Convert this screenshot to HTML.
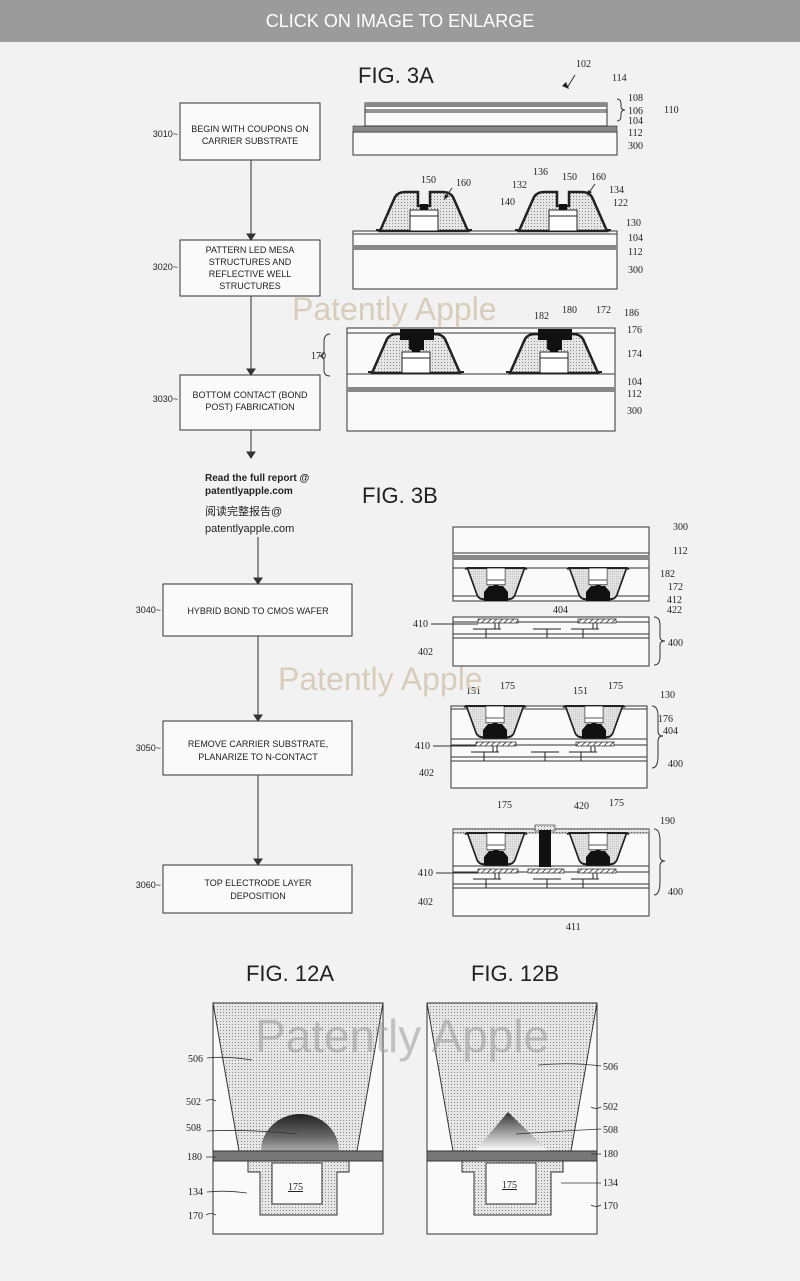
<!DOCTYPE html>
<html><head><meta charset="utf-8"><style>
html,body{margin:0;padding:0;background:#f2f2f2;}
svg{display:block}
.l{font-family:"Liberation Serif",serif;font-size:10px;fill:#222}
.b{font-family:"Liberation Sans",sans-serif;font-size:9px;fill:#222;text-anchor:middle}
.n{font-family:"Liberation Sans",sans-serif;font-size:9px;fill:#222;text-anchor:end}
.f{font-family:"Liberation Sans",sans-serif;font-size:22px;fill:#222}
</style></head><body>
<svg width="800" height="1281" viewBox="0 0 800 1281" xmlns="http://www.w3.org/2000/svg">
<defs>
<pattern id="dots" width="3" height="3" patternUnits="userSpaceOnUse"><rect width="3" height="3" fill="#e6e6e6"/><rect x="1" y="1" width="1" height="1" fill="#888"/></pattern>
<pattern id="hatch" width="4" height="4" patternUnits="userSpaceOnUse" patternTransform="rotate(45)"><rect width="4" height="4" fill="#fff"/><line x1="0" y1="0" x2="0" y2="4" stroke="#222" stroke-width="1.5"/></pattern>
<linearGradient id="dome" x1="0" y1="0" x2="0" y2="1"><stop offset="0" stop-color="#222"/><stop offset="0.6" stop-color="#666"/><stop offset="1" stop-color="#aaa"/></linearGradient>
<linearGradient id="tri" x1="0" y1="0" x2="0" y2="1"><stop offset="0" stop-color="#333"/><stop offset="1" stop-color="#fff"/></linearGradient>
<g id="mesa">
<line x1="-48" y1="-1" x2="48" y2="-1" stroke="#222" stroke-width="2"/>
<path d="M-44,0 L-29,-34 Q-26,-39 -19,-39 L-6,-39 L-6,-25 L6,-25 L6,-39 L19,-39 Q26,-39 29,-34 L44,0 Z" fill="url(#dots)" stroke="#222" stroke-width="2.5"/>
<rect x="-14" y="-21" width="28" height="21" fill="#fff" stroke="#222" stroke-width="1"/>
<line x1="-14" y1="-15" x2="14" y2="-15" stroke="#222"/>
<rect x="-4" y="-27" width="8" height="6" fill="#111"/>
</g>
<g id="wafer">
<line x1="0" y1="5" x2="196" y2="5" stroke="#333"/>
<line x1="0" y1="17" x2="196" y2="17" stroke="#333"/>
<line x1="0" y1="21" x2="196" y2="21" stroke="#333"/>
<rect x="25" y="2" width="40" height="4" fill="url(#hatch)" stroke="#222" stroke-width="0.7"/>
<rect x="125" y="2" width="38" height="4" fill="url(#hatch)" stroke="#222" stroke-width="0.7"/>
<path d="M42,6 v6 h4 v-6" fill="none" stroke="#222"/>
<path d="M140,6 v6 h4 v-6" fill="none" stroke="#222"/>
<path d="M20,12 h28 M33,12 v9 M80,12 h28 M94,12 v9 M118,12 h28 M130,12 v9" stroke="#222" fill="none"/>
</g>
</defs>

<rect x="0" y="0" width="800" height="42" fill="#9b9b9b"/>
<text x="400" y="27" text-anchor="middle" font-family="Liberation Sans,sans-serif" font-size="18" fill="#fff">CLICK ON IMAGE TO ENLARGE</text>

<g fill="#fafafa" stroke="#333" stroke-width="1">
<rect x="180" y="103" width="140" height="57"/>
<rect x="180" y="240" width="140" height="56"/>
<rect x="180" y="375" width="140" height="55"/>
<rect x="163" y="584" width="189" height="52"/>
<rect x="163" y="721" width="189" height="54"/>
<rect x="163" y="865" width="189" height="48"/>
</g>
<text class="b" x="250" y="132">BEGIN WITH COUPONS ON</text><text class="b" x="250" y="144">CARRIER SUBSTRATE</text>
<text class="b" x="250" y="253">PATTERN LED MESA</text><text class="b" x="250" y="265">STRUCTURES AND</text><text class="b" x="250" y="277">REFLECTIVE WELL</text><text class="b" x="250" y="289">STRUCTURES</text>
<text class="b" x="250" y="398">BOTTOM CONTACT (BOND</text><text class="b" x="250" y="410">POST) FABRICATION</text>
<text class="b" x="258" y="614">HYBRID BOND TO CMOS WAFER</text>
<text class="b" x="258" y="747">REMOVE CARRIER SUBSTRATE,</text><text class="b" x="258" y="760">PLANARIZE TO N-CONTACT</text>
<text class="b" x="258" y="886">TOP ELECTRODE LAYER</text><text class="b" x="258" y="899">DEPOSITION</text>
<text class="n" x="178" y="137">3010~</text><text class="n" x="178" y="270">3020~</text><text class="n" x="178" y="402">3030~</text>
<text class="n" x="161" y="613">3040~</text><text class="n" x="161" y="751">3050~</text><text class="n" x="161" y="888">3060~</text>
<g stroke="#333" fill="#333">
<line x1="251" y1="160" x2="251" y2="234"/><path d="M247,234 L255,234 L251,240Z"/>
<line x1="251" y1="296" x2="251" y2="369"/><path d="M247,369 L255,369 L251,375Z"/>
<line x1="251" y1="430" x2="251" y2="452"/><path d="M247,452 L255,452 L251,458Z"/>
<line x1="258" y1="537" x2="258" y2="578"/><path d="M254,578 L262,578 L258,584Z"/>
<line x1="258" y1="636" x2="258" y2="715"/><path d="M254,715 L262,715 L258,721Z"/>
<line x1="258" y1="775" x2="258" y2="859"/><path d="M254,859 L262,859 L258,865Z"/>
</g>
<text x="205" y="481" font-family="Liberation Sans,sans-serif" font-size="10" font-weight="bold" fill="#222">Read the full report @</text>
<text x="205" y="494" font-family="Liberation Sans,sans-serif" font-size="10" font-weight="bold" fill="#222">patentlyapple.com</text>
<text x="205" y="515" font-family="Liberation Sans,'Noto Sans CJK SC',sans-serif" font-size="11" fill="#222">阅读完整报告@</text>
<text x="205" y="532" font-family="Liberation Sans,sans-serif" font-size="11" fill="#222">patentlyapple.com</text>

<text class="f" x="358" y="83">FIG. 3A</text>
<text class="f" x="362" y="503">FIG. 3B</text>

<rect x="353" y="132" width="264" height="23" fill="#fafafa" stroke="#333"/>
<rect x="353" y="126" width="264" height="6" fill="#888" stroke="#333" stroke-width="0.6"/>
<rect x="365" y="103" width="242" height="23" fill="#fafafa" stroke="#333"/>
<rect x="365" y="103" width="242" height="4" fill="#888"/>
<line x1="365" y1="110" x2="607" y2="110" stroke="#333"/><line x1="365" y1="112" x2="607" y2="112" stroke="#333"/>
<rect x="353" y="231" width="264" height="58" fill="#fafafa" stroke="#333"/>
<line x1="353" y1="234" x2="617" y2="234" stroke="#333"/>
<rect x="353" y="245" width="264" height="5" fill="#888"/>
<use href="#mesa" x="424" y="231"/><use href="#mesa" x="563" y="231"/>
<rect x="347" y="328" width="268" height="103" fill="#fafafa" stroke="#333"/>
<line x1="347" y1="333" x2="615" y2="333" stroke="#333"/>
<line x1="347" y1="374" x2="615" y2="374" stroke="#333"/>
<rect x="347" y="387" width="268" height="5" fill="#888"/>
<use href="#mesa" x="416" y="373"/><use href="#mesa" x="554" y="373"/>
<path d="M400,329 h34 v11 h-10 v10 h-14 v-10 h-10z" fill="#111"/>
<path d="M538,329 h34 v11 h-10 v10 h-14 v-10 h-10z" fill="#111"/>
<path d="M330,334 q-6,0 -6,8 v10 q0,4 -5,4 q5,0 5,4 v10 q0,6 6,6" fill="none" stroke="#333"/>

<g class="l">
<text x="576" y="67">102</text><text x="612" y="81">114</text>
<text x="628" y="101">108</text><text x="628" y="114">106</text><text x="628" y="124">104</text><text x="664" y="113">110</text>
<text x="628" y="136">112</text><text x="628" y="149">300</text>
<text x="421" y="183">150</text><text x="456" y="186">160</text><text x="533" y="175">136</text><text x="562" y="180">150</text><text x="591" y="180">160</text>
<text x="512" y="188">132</text><text x="609" y="193">134</text><text x="500" y="205">140</text><text x="613" y="206">122</text>
<text x="626" y="226">130</text><text x="628" y="241">104</text><text x="628" y="255">112</text><text x="628" y="273">300</text>
<text x="534" y="319">182</text><text x="562" y="313">180</text><text x="596" y="313">172</text><text x="624" y="316">186</text>
<text x="627" y="333">176</text><text x="627" y="357">174</text><text x="627" y="385">104</text><text x="627" y="397">112</text><text x="627" y="414">300</text>
<text x="311" y="359">170</text>
</g>
<path d="M575,75 L567,88" stroke="#333"/><path d="M562,86 L569,89 L566,82Z" fill="#222"/>
<path d="M452,188 L445,198" stroke="#333"/><path d="M445,194 L444,200 L449,196Z" fill="#222"/>
<path d="M595,184 L588,194" stroke="#333"/><path d="M588,190 L587,196 L592,192Z" fill="#222"/>
<path d="M617,99 q4,0 4,5 v2 q0,4 4,4 q-4,0 -4,4 v2 q0,5 -4,5" fill="none" stroke="#333"/>

<rect x="453" y="527" width="196" height="74" fill="#fafafa" stroke="#333"/>
<line x1="453" y1="553" x2="649" y2="553" stroke="#333"/>
<rect x="453" y="555" width="196" height="5" fill="#888"/>
<line x1="453" y1="568" x2="649" y2="568" stroke="#333"/><line x1="453" y1="596" x2="649" y2="596" stroke="#333"/>
<g transform="translate(496,568) scale(0.65,-0.8)"><use href="#mesa"/></g>
<g transform="translate(598,568) scale(0.65,-0.8)"><use href="#mesa"/></g>
<path d="M484,601 v-9 l5,-6 h14 l5,6 v9z" fill="#111"/><path d="M586,601 v-9 l5,-6 h14 l5,6 v9z" fill="#111"/>
<rect x="453" y="617" width="196" height="49" fill="#fafafa" stroke="#333"/>
<use href="#wafer" x="453" y="617"/>
<rect x="451" y="706" width="196" height="82" fill="#fafafa" stroke="#333"/>
<line x1="451" y1="709" x2="647" y2="709" stroke="#333"/>
<g transform="translate(495,706) scale(0.65,-0.8)"><use href="#mesa"/></g>
<g transform="translate(594,706) scale(0.65,-0.8)"><use href="#mesa"/></g>
<path d="M483,739 v-9 l5,-6 h14 l5,6 v9z" fill="#111"/><path d="M582,739 v-9 l5,-6 h14 l5,6 v9z" fill="#111"/>
<line x1="451" y1="739" x2="647" y2="739" stroke="#333"/>
<use href="#wafer" x="451" y="740"/>
<rect x="453" y="829" width="196" height="87" fill="#fafafa" stroke="#333"/>
<rect x="453" y="829" width="196" height="4" fill="url(#dots)" stroke="#333" stroke-width="0.6"/>
<rect x="535" y="825" width="20" height="6" fill="url(#dots)" stroke="#333" stroke-width="0.6"/>
<g transform="translate(496,833) scale(0.65,-0.8)"><use href="#mesa"/></g>
<g transform="translate(598,833) scale(0.65,-0.8)"><use href="#mesa"/></g>
<path d="M484,866 v-9 l5,-6 h14 l5,6 v9z" fill="#111"/><path d="M586,866 v-9 l5,-6 h14 l5,6 v9z" fill="#111"/>
<line x1="453" y1="866" x2="649" y2="866" stroke="#333"/>
<use href="#wafer" x="453" y="867"/>
<rect x="528" y="869" width="36" height="4" fill="url(#hatch)" stroke="#222" stroke-width="0.7"/>
<rect x="539" y="830" width="12" height="37" fill="#111"/>

<g class="l">
<text x="673" y="530">300</text><text x="673" y="554">112</text><text x="660" y="577">182</text><text x="668" y="590">172</text>
<text x="667" y="603">412</text><text x="667" y="613">422</text><text x="553" y="613">404</text>
<text x="413" y="627">410</text><text x="418" y="655">402</text><text x="668" y="646">400</text>
<text x="466" y="694">151</text><text x="500" y="689">175</text><text x="573" y="694">151</text><text x="608" y="689">175</text>
<text x="660" y="698">130</text><text x="658" y="722">176</text><text x="663" y="734">404</text>
<text x="415" y="749">410</text><text x="419" y="776">402</text><text x="668" y="767">400</text>
<text x="497" y="808">175</text><text x="574" y="809">420</text><text x="609" y="806">175</text><text x="660" y="824">190</text>
<text x="418" y="876">410</text><text x="418" y="905">402</text><text x="668" y="895">400</text><text x="566" y="930">411</text>
</g>
<g fill="none" stroke="#333">
<path d="M654,617 q6,0 6,8 v12 q0,4 5,4 q-5,0 -5,4 v12 q0,8 -6,8"/>
<path d="M652,706 q6,0 6,10 v15 q0,5 5,5 q-5,0 -5,5 v15 q0,12 -6,12"/>
<path d="M654,829 q6,0 6,12 v15 q0,5 5,5 q-5,0 -5,5 v15 q0,14 -6,14"/>
<path d="M431,624 H478 M433,746 H476 M436,873 H478"/>
</g>

<text x="292" y="320" font-family="Liberation Sans,sans-serif" font-size="32" fill="#d8cdbb">Patently Apple</text>
<text x="278" y="690" font-family="Liberation Sans,sans-serif" font-size="32" fill="#d8cdbb">Patently Apple</text>

<text class="f" x="290" y="981" text-anchor="middle">FIG. 12A</text>
<text class="f" x="515" y="981" text-anchor="middle">FIG. 12B</text>
<g>
<rect x="213" y="1003" width="170" height="231" fill="#fafafa" stroke="#333"/>
<path d="M213,1003 H383 L357,1151 H239 Z" fill="url(#dots)" stroke="#333"/>
<path d="M261,1151 A39,37 0 0 1 339,1151 Z" fill="url(#dome)"/>
<path d="M248,1161 H349 V1172 H337 V1215 H260 V1172 H248 Z" fill="url(#dots)" stroke="#333"/>
<rect x="272" y="1163" width="50" height="41" fill="#fafafa" stroke="#333"/>
<rect x="213" y="1151" width="170" height="10" fill="#777" stroke="#333"/>
<text class="l" x="288" y="1190" text-decoration="underline">175</text>
</g>
<g>
<rect x="427" y="1003" width="170" height="231" fill="#fafafa" stroke="#333"/>
<path d="M427,1003 H597 L571,1151 H453 Z" fill="url(#dots)" stroke="#333"/>
<path d="M475,1151 L508,1112 L548,1151 Z" fill="url(#tri)"/>
<path d="M462,1161 H563 V1172 H551 V1215 H474 V1172 H462 Z" fill="url(#dots)" stroke="#333"/>
<rect x="486" y="1163" width="50" height="41" fill="#fafafa" stroke="#333"/>
<rect x="427" y="1151" width="170" height="10" fill="#777" stroke="#333"/>
<text class="l" x="502" y="1188" text-decoration="underline">175</text>
</g>
<text x="255" y="1052" font-family="Liberation Sans,sans-serif" font-size="46" fill="#999" fill-opacity="0.55">Patently Apple</text>
<g class="l">
<text x="188" y="1062">506</text><text x="186" y="1105">502</text><text x="186" y="1131">508</text><text x="187" y="1160">180</text><text x="188" y="1195">134</text><text x="188" y="1219">170</text>
<text x="603" y="1070">506</text><text x="603" y="1110">502</text><text x="603" y="1133">508</text><text x="603" y="1157">180</text><text x="603" y="1186">134</text><text x="603" y="1209">170</text>
</g>
<g fill="none" stroke="#333" stroke-width="0.8">
<path d="M207,1058 q20,-2 45,2"/><path d="M206,1101 q5,-3 10,0"/><path d="M207,1131 q40,-2 90,3"/><path d="M206,1157 h10"/><path d="M207,1192 q20,-2 40,1"/><path d="M206,1215 q5,-3 10,0"/>
<path d="M601,1066 q-30,-4 -63,-1"/><path d="M601,1107 q-5,3 -10,0"/><path d="M601,1129 q-40,2 -85,5"/><path d="M601,1154 h-10"/><path d="M601,1183 h-40"/><path d="M601,1205 q-5,3 -10,0"/>
</g>
</svg>
</body></html>
